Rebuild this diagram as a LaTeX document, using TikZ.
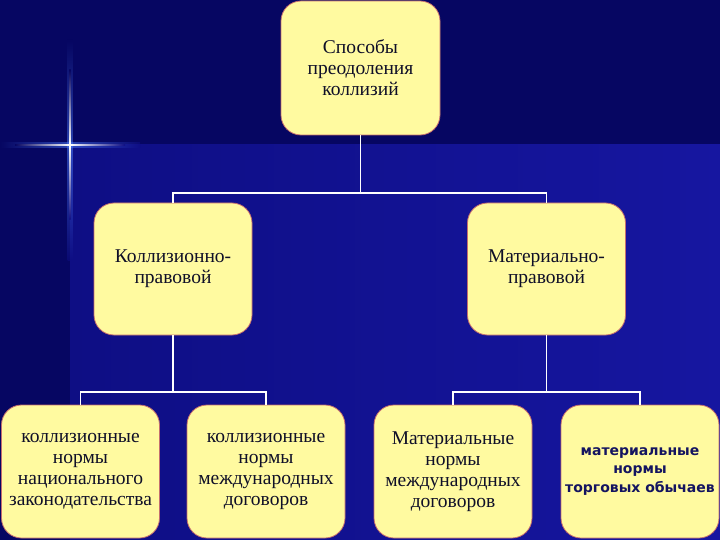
\documentclass[tikz,border=0pt]{standalone}
\usepackage{fontspec}
\setmainfont{Liberation Serif}
\newfontfamily\boldsans{DejaVu Sans}
\definecolor{navydark}{RGB}{6,6,98}
\definecolor{navymid}{RGB}{14,14,132}
\definecolor{navylight}{RGB}{22,22,160}
\definecolor{boxfill}{RGB}{255,250,160}
\definecolor{boxline}{RGB}{196,110,110}
\definecolor{txt}{RGB}{15,15,40}
\definecolor{sanstxt}{RGB}{20,20,96}
\definecolor{glow}{RGB}{80,130,255}
\begin{document}
\begin{tikzpicture}[x=1pt,y=-1pt,
  box/.style={draw=boxline, line width=0.8pt, fill=boxfill, rounded corners=20pt,
    align=center, text=txt, font=\fontsize{19.5}{21}\selectfont, inner sep=0pt},
  topbox/.style={box, minimum width=159pt, minimum height=134pt},
  midbox/.style={box, minimum width=158pt, minimum height=132pt},
  lowbox/.style={box, minimum width=158pt, minimum height=133pt},
  link/.style={draw=white, line width=1.6pt}]
% background
\fill[navydark] (0,0) rectangle (720,540);
\shade[left color=navymid, right color=navylight] (70,145) rectangle (720,540);
% sparkle
\shade[top color=navydark, bottom color=navymid, middle color=glow, opacity=0.5] (67.5,40) rectangle (72.5,260);
\shade[left color=navydark, right color=navymid, middle color=glow, opacity=0.5] (0,142.5) rectangle (140,147.5);
\shade[top color=navydark, bottom color=navymid, middle color=white] (69.3,70) rectangle (70.7,220);
\shade[left color=navydark, right color=navymid, middle color=white] (15,144.3) rectangle (125,145.7);
% boxes
\node[topbox] (top) at (360.5,68) {Способы\\преодоления\\коллизий};
\node[midbox] (ml) at (173,269) {Коллизионно-\\правовой};
\node[midbox] (mr) at (546.5,269) {Материально-\\правовой};
\node[lowbox] (b1) at (80.5,471.5) {коллизионные\\нормы\\национального\\законодательства};
\node[lowbox] (b2) at (266,471.5) {коллизионные\\нормы\\международных\\договоров};
\node[lowbox] (b3) at (453,471.5) {Материальные\\нормы\\международных\\договоров};
\node[lowbox, text=sanstxt, font=\boldsans\bfseries\fontsize{14}{18.5}\selectfont] (b4) at (640,471.5) {материальные\\нормы\\торговых обычаев};
% connectors
\draw[link] (top.south) -- (top.south |- 0,193);
\draw[link] (ml.north) -- (ml.north |- 0,193) -| (mr.north);
\draw[link] (ml.south) -- (ml.south |- 0,392);
\draw[link] (b1.north) -- (b1.north |- 0,392) -| (b2.north);
\draw[link] (mr.south) -- (mr.south |- 0,392);
\draw[link] (b3.north) -- (b3.north |- 0,392) -| (b4.north);
\end{tikzpicture}
\end{document}
